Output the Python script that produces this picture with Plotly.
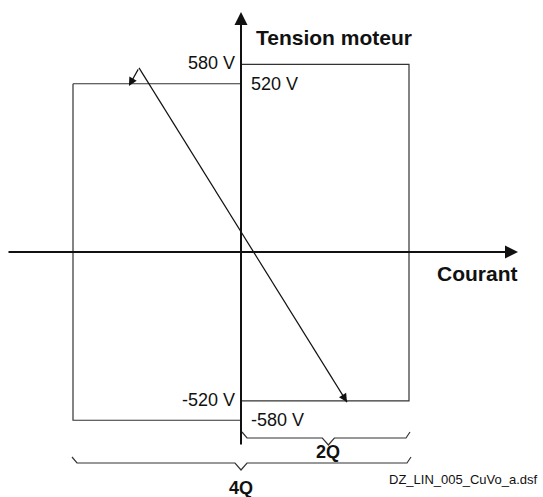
import plotly.graph_objects as go

# ---- data ----
# currents in relative units (box width = 1), voltages in V
box_4Q_current = [-1.0, 0.0]
box_4Q_voltage = [520, -520]
box_2Q_current = [0.0, 1.0]
box_2Q_voltage = [580, -460]
work_current = [-0.667, -0.607, 0.631]      # arrow tip, apex, arrow tip
work_voltage = [513, 569, -464]
tick_labels_left = ["580 V", "-520 V"]
tick_values_left = [580, -460]
tick_labels_right = ["520 V", "-580 V"]
tick_values_right = [520, -520]
axis_titles = ["Courant", "Tension moteur"]
brace_labels = ["2Q", "4Q"]
file_label = "DZ_LIN_005_CuVo_a.dsf"

# ---- geometry of the drawing ----
W, H = 543, 497
X0, Y0 = 241, 252          # pixel position of origin
KX, KY = 168.0, 0.3236     # px per current unit, px per volt


def cx(px):
    return (px - X0) / KX


def vy(py):
    return (Y0 - py) / KY


FONT = "Liberation Sans, Arial, sans-serif"
INK = "#111111"
BOX = "#333333"

fig = go.Figure()

# boxes
def rect(cur, volt):
    x = [cur[0], cur[1], cur[1], cur[0], cur[0]]
    y = [volt[0], volt[0], volt[1], volt[1], volt[0]]
    return x, y

for cur, volt in [(box_4Q_current, box_4Q_voltage), (box_2Q_current, box_2Q_voltage)]:
    x, y = rect(cur, volt)
    fig.add_trace(go.Scatter(x=x, y=y, mode="lines",
                             line=dict(color=BOX, width=1.2),
                             hoverinfo="skip", showlegend=False))

# working line (apex to lower arrow tip)
fig.add_trace(go.Scatter(x=work_current[1:], y=work_voltage[1:], mode="lines",
                         line=dict(color=INK, width=1.2),
                         hoverinfo="skip", showlegend=False))

annotations = []

def arrow(x, y, ax, ay, width, size=1.0, head=2):
    annotations.append(dict(x=x, y=y, ax=ax, ay=ay, xref="x", yref="y",
                            axref="x", ayref="y", showarrow=True, text="",
                            arrowhead=head, arrowsize=size, arrowwidth=width,
                            arrowcolor=INK, standoff=0, startstandoff=0))

# axis arrows
arrow(cx(518), 0, cx(7), 0, 2, 1.3)
arrow(0, vy(12), 0, vy(446), 2, 1.3)
# working-line arrow heads
arrow(work_current[0], work_voltage[0], work_current[1], work_voltage[1], 1.2, 1.4)
arrow(work_current[2], work_voltage[2], work_current[2] - 0.02 * (work_current[2] - work_current[1]),
      work_voltage[2] - 0.02 * (work_voltage[2] - work_voltage[1]), 1.2, 1.4)


# braces
def brace(c0, c1, cmid, py_main, hook=6, tip=7, half=6):
    xs = [c0, c0 + 5 / KX, cmid - half / KX, cmid, cmid + half / KX, c1 - 4 / KX, c1]
    ys = [vy(py_main - hook), vy(py_main), vy(py_main), vy(py_main + tip),
          vy(py_main), vy(py_main), vy(py_main - hook)]
    fig.add_trace(go.Scatter(x=xs, y=ys, mode="lines",
                             line=dict(color=BOX, width=1.2),
                             hoverinfo="skip", showlegend=False))

brace(box_2Q_current[0] + 1 / KX, box_2Q_current[1] + 1 / KX, 0.52, 438)
brace(box_4Q_current[0] - 1 / KX, box_2Q_current[1] + 2 / KX, 0.0, 463)

# texts
def label(x, y, text, xanchor, size, bold=False):
    annotations.append(dict(x=x, y=y, xref="x", yref="y", text=f"<b>{text}</b>" if bold else text,
                            showarrow=False, xanchor=xanchor, yanchor="middle",
                            font=dict(family=FONT, size=size, color=INK)))

for t, v in zip(tick_labels_left, tick_values_left):
    label(cx(237), v + 1 / KY, t, "right", 18)
for t, v in zip(tick_labels_right, tick_values_right):
    label(cx(249), v + 0 / KY, t, "left", 18)

label(cx(435), vy(273), axis_titles[0], "left", 21, bold=True)
label(cx(254), vy(37), axis_titles[1], "left", 21, bold=True)
label(0.52, vy(452), brace_labels[0], "center", 18, bold=True)
label(0.0, vy(488), brace_labels[1], "center", 18, bold=True)
label(cx(540), vy(479), file_label, "right", 13)

fig.update_layout(
    width=W, height=H,
    margin=dict(l=0, r=0, t=0, b=0),
    paper_bgcolor="white", plot_bgcolor="white",
    annotations=annotations,
    xaxis=dict(range=[cx(0), cx(W)], visible=False, fixedrange=True),
    yaxis=dict(range=[vy(H), vy(0)], visible=False, fixedrange=True),
    showlegend=False,
)

fig.write_html("out.html", config={"displayModeBar": False},
               post_script="document.body.style.margin='0';document.body.style.overflow='hidden';")
